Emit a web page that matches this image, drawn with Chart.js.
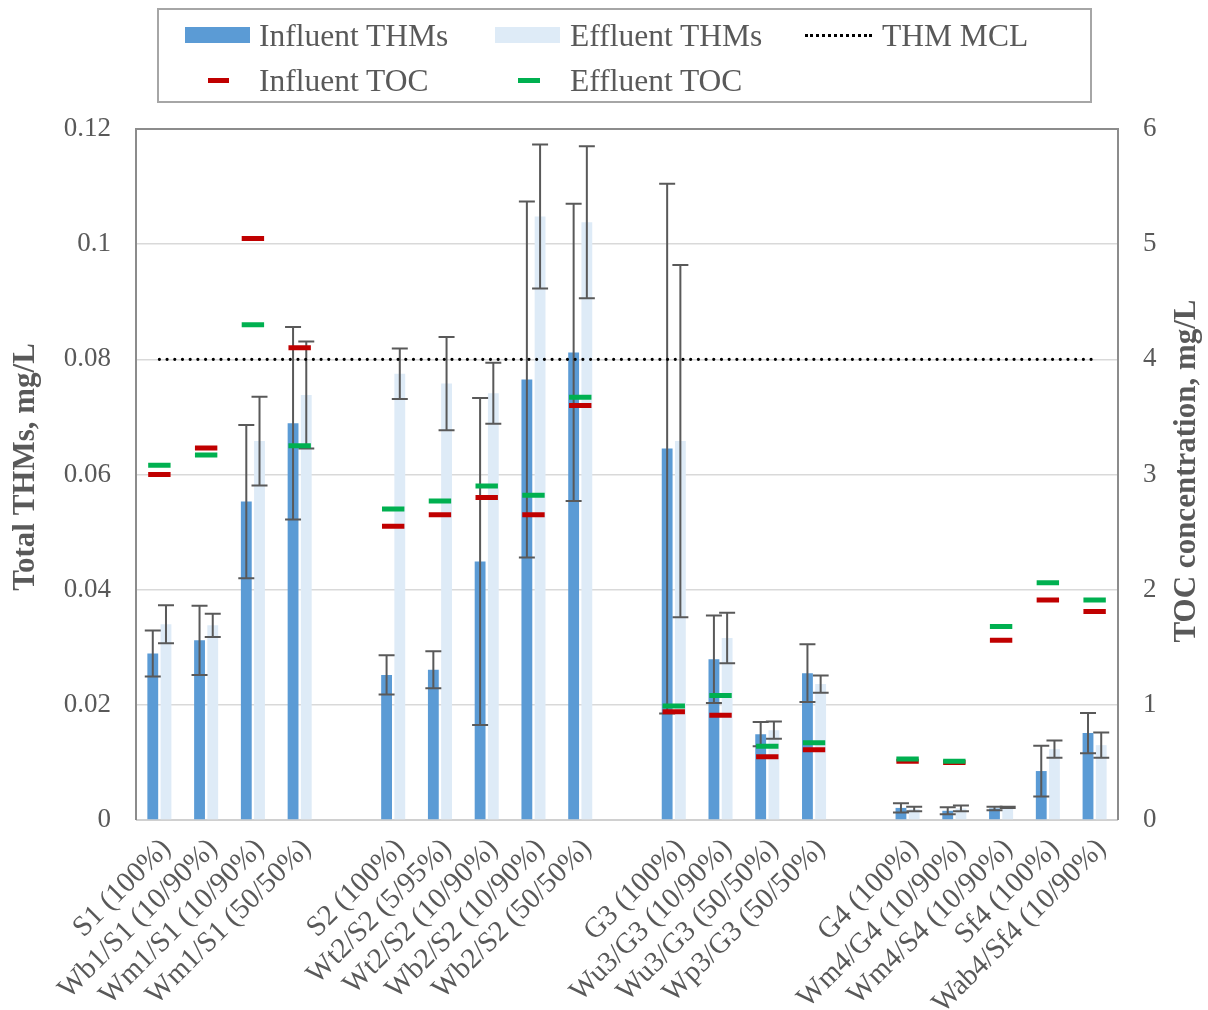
<!DOCTYPE html>
<html>
<head>
<meta charset="utf-8">
<script src="https://cdn.jsdelivr.net/npm/chart.js@4.4.1/dist/chart.umd.min.js"></script>
<style>
  body { margin: 0; background: #fff; }
  #wrap { position: relative; width: 1208px; height: 1010px; font-family: "Liberation Serif", serif; }
  #legend { position: absolute; left: 157px; top: 8px; width: 931px; height: 91px; border: 2px solid #a6a6a6; box-sizing: content-box; }
  .item { position: absolute; font-size: 31.5px; color: #595959; line-height: 31px; white-space: nowrap; }
  .sw { position: absolute; }
</style>
</head>
<body>
<div id="wrap">
  <canvas id="chart" width="1208" height="1010"></canvas>
  <div id="legend">
    <div class="sw" style="left:26px;top:17px;width:65px;height:16px;background:#5b9bd5"></div>
    <div class="item" style="left:100px;top:10px">Influent THMs</div>
    <div class="sw" style="left:336px;top:17px;width:65px;height:16px;background:#deebf7"></div>
    <div class="item" style="left:411px;top:10px">Effluent THMs</div>
    <div class="sw" style="left:646px;top:24px;width:67px;height:0;border-top:3px dotted #000"></div>
    <div class="item" style="left:723px;top:10px">THM MCL</div>
    <div class="sw" style="left:49px;top:68px;width:21px;height:5px;background:#c00000"></div>
    <div class="item" style="left:100px;top:55px">Influent TOC</div>
    <div class="sw" style="left:359px;top:68px;width:22px;height:5px;background:#00b050"></div>
    <div class="item" style="left:411px;top:55px">Effluent TOC</div>
  </div>
</div>
<script>
// Categories (empty labels are the gaps between groups)
const labels = [
  'S1 (100%)', 'Wb1/S1 (10/90%)', 'Wm1/S1 (10/90%)', 'Wm1/S1 (50/50%)', '',
  'S2 (100%)', 'Wt2/S2 (5/95%)', 'Wt2/S2 (10/90%)', 'Wb2/S2 (10/90%)', 'Wb2/S2 (50/50%)', '',
  'G3 (100%)', 'Wu3/G3 (10/90%)', 'Wu3/G3 (50/50%)', 'Wp3/G3 (50/50%)', '',
  'G4 (100%)', 'Wm4/G4 (10/90%)', 'Wm4/S4 (10/90%)', 'Sf4 (100%)', 'Wab4/Sf4 (10/90%)'
];

// THMs, mg/L
const influentTHM = [0.0289, 0.0312, 0.0553, 0.0689, null, 0.0252, 0.0261, 0.0449, 0.0765, 0.0812, null,
  0.0645, 0.0279, 0.0149, 0.0255, null, 0.0021, 0.0016, 0.0020, 0.0085, 0.0151];
const influentErr = [0.0040, 0.0060, 0.0133, 0.0167, null, 0.0034, 0.0032, 0.0284, 0.0309, 0.0258, null,
  0.0460, 0.0076, 0.0021, 0.0050, null, 0.0008, 0.0006, 0.0003, 0.0044, 0.0035];
const effluentTHM = [0.0340, 0.0338, 0.0658, 0.0738, null, 0.0775, 0.0758, 0.0741, 0.1048, 0.1038, null,
  0.0658, 0.0316, 0.0156, 0.0236, null, 0.0019, 0.0020, 0.0022, 0.0123, 0.0130];
const effluentErr = [0.0033, 0.0020, 0.0077, 0.0093, null, 0.0044, 0.0081, 0.0053, 0.0125, 0.0132, null,
  0.0306, 0.0044, 0.0015, 0.0015, null, 0.0004, 0.0005, 0.0001, 0.0015, 0.0022];

// TOC, mg/L (right axis)
const influentTOC = [3.00, 3.23, 5.05, 4.10, null, 2.55, 2.65, 2.80, 2.65, 3.60, null,
  0.94, 0.91, 0.55, 0.61, null, 0.51, 0.50, 1.56, 1.91, 1.81];
const effluentTOC = [3.08, 3.17, 4.30, 3.25, null, 2.70, 2.77, 2.90, 2.82, 3.67, null,
  0.99, 1.08, 0.64, 0.67, null, 0.53, 0.51, 1.68, 2.06, 1.91];

const MCL = 0.08;
const mclLine = labels.map(() => MCL);

const FONT = '"Liberation Serif", "Times New Roman", serif';
const GREY = '#595959';

// error bars drawn right after each bar dataset
const errorBars = {
  id: 'errorBars',
  afterDatasetDraw(chart, args) {
    const ds = chart.data.datasets[args.index];
    if (!ds.errors) return;
    const y = chart.scales.y;
    const ctx = chart.ctx;
    ctx.save();
    ctx.strokeStyle = GREY;
    ctx.lineWidth = 2;
    args.meta.data.forEach((bar, i) => {
      const v = ds.data[i], e = ds.errors[i];
      if (v == null || e == null) return;
      const top = y.getPixelForValue(v + e);
      const bot = y.getPixelForValue(v - e);
      const x = bar.x, half = 8;
      ctx.beginPath();
      ctx.moveTo(x, top); ctx.lineTo(x, bot);
      ctx.moveTo(x - half, top); ctx.lineTo(x + half, top);
      ctx.moveTo(x - half, bot); ctx.lineTo(x + half, bot);
      ctx.stroke();
    });
    ctx.restore();
  }
};

// plot frame + rotated axis titles
const frame = {
  id: 'frame',
  beforeDatasetsDraw(chart) {
    const { ctx, chartArea: a } = chart;
    ctx.save();
    ctx.lineWidth = 2;
    ctx.strokeStyle = '#d0d0d0';
    ctx.beginPath(); ctx.moveTo(a.left, a.bottom); ctx.lineTo(a.right, a.bottom); ctx.stroke();
    ctx.strokeStyle = '#8c8c8c';
    ctx.beginPath();
    ctx.moveTo(a.left, a.bottom); ctx.lineTo(a.left, a.top);
    ctx.lineTo(a.right, a.top); ctx.lineTo(a.right, a.bottom);
    ctx.stroke();
    ctx.restore();
  },
  afterDraw(chart) {
    const ctx = chart.ctx;
    ctx.save();
    ctx.fillStyle = GREY;
    ctx.font = 'bold 31px ' + FONT;
    ctx.textAlign = 'center';
    ctx.textBaseline = 'middle';
    ctx.translate(26, 467); ctx.rotate(-Math.PI / 2);
    ctx.fillText('Total THMs, mg/L', 0, 0);
    ctx.restore();
    ctx.save();
    ctx.fillStyle = GREY;
    ctx.font = 'bold 31px ' + FONT;
    ctx.textAlign = 'center';
    ctx.textBaseline = 'middle';
    ctx.translate(1187, 471); ctx.rotate(-Math.PI / 2);
    ctx.fillText('TOC concentration, mg/L', 0, 0);
    ctx.restore();
  }
};

const ctx = document.getElementById('chart').getContext('2d');
new Chart(ctx, {
  type: 'bar',
  data: {
    labels: labels,
    datasets: [
      {
        type: 'line', label: 'THM MCL', data: mclLine, yAxisID: 'y',
        borderColor: '#000', borderWidth: 3.2, borderDash: [0, 7.7], borderCapStyle: 'round',
        pointRadius: 0, fill: false, order: 0
      },
      {
        type: 'line', label: 'Effluent TOC', data: effluentTOC, yAxisID: 'y2', showLine: false,
        pointStyle: 'line', pointRadius: 11.2, pointHoverRadius: 11.2, pointBorderWidth: 5,
        pointBorderColor: '#00b050', borderColor: '#00b050', order: 1
      },
      {
        type: 'line', label: 'Influent TOC', data: influentTOC, yAxisID: 'y2', showLine: false,
        pointStyle: 'line', pointRadius: 11.2, pointHoverRadius: 11.2, pointBorderWidth: 5,
        pointBorderColor: '#c00000', borderColor: '#c00000', order: 2
      },
      {
        label: 'Influent THMs', data: influentTHM, errors: influentErr, yAxisID: 'y',
        backgroundColor: '#5b9bd5', order: 3
      },
      {
        label: 'Effluent THMs', data: effluentTHM, errors: effluentErr, yAxisID: 'y',
        backgroundColor: '#deebf7', order: 4
      }
    ]
  },
  options: {
    responsive: false,
    animation: false,
    datasets: { bar: { categoryPercentage: 0.565, barPercentage: 0.82 } },
    layout: { padding: { top: 129, left: 0, right: 0, bottom: 0 } },
    plugins: { legend: { display: false }, tooltip: { enabled: false } },
    scales: {
      x: {
        grid: { display: false, drawTicks: false },
        border: { display: false },
        ticks: {
          autoSkip: false, minRotation: 45, maxRotation: 45, padding: 12, labelOffset: 7,
          color: GREY, font: { family: FONT, size: 29 }
        },
        afterFit(s) { s.height = 190; }
      },
      y: {
        position: 'left', min: 0, max: 0.12,
        grid: { color: '#d9d9d9', lineWidth: 1.5, drawTicks: false },
        border: { display: false },
        ticks: {
          stepSize: 0.02, padding: 25, color: GREY, font: { family: FONT, size: 27 },
          callback: v => String(+v.toFixed(2))
        },
        afterFit(s) { s.width = 136; }
      },
      y2: {
        position: 'right', min: 0, max: 6,
        grid: { display: false, drawTicks: false },
        border: { display: false },
        ticks: { stepSize: 1, padding: 25, color: GREY, font: { family: FONT, size: 27 } },
        afterFit(s) { s.width = 90; }
      }
    }
  },
  plugins: [errorBars, frame]
});
</script>
</body>
</html>
